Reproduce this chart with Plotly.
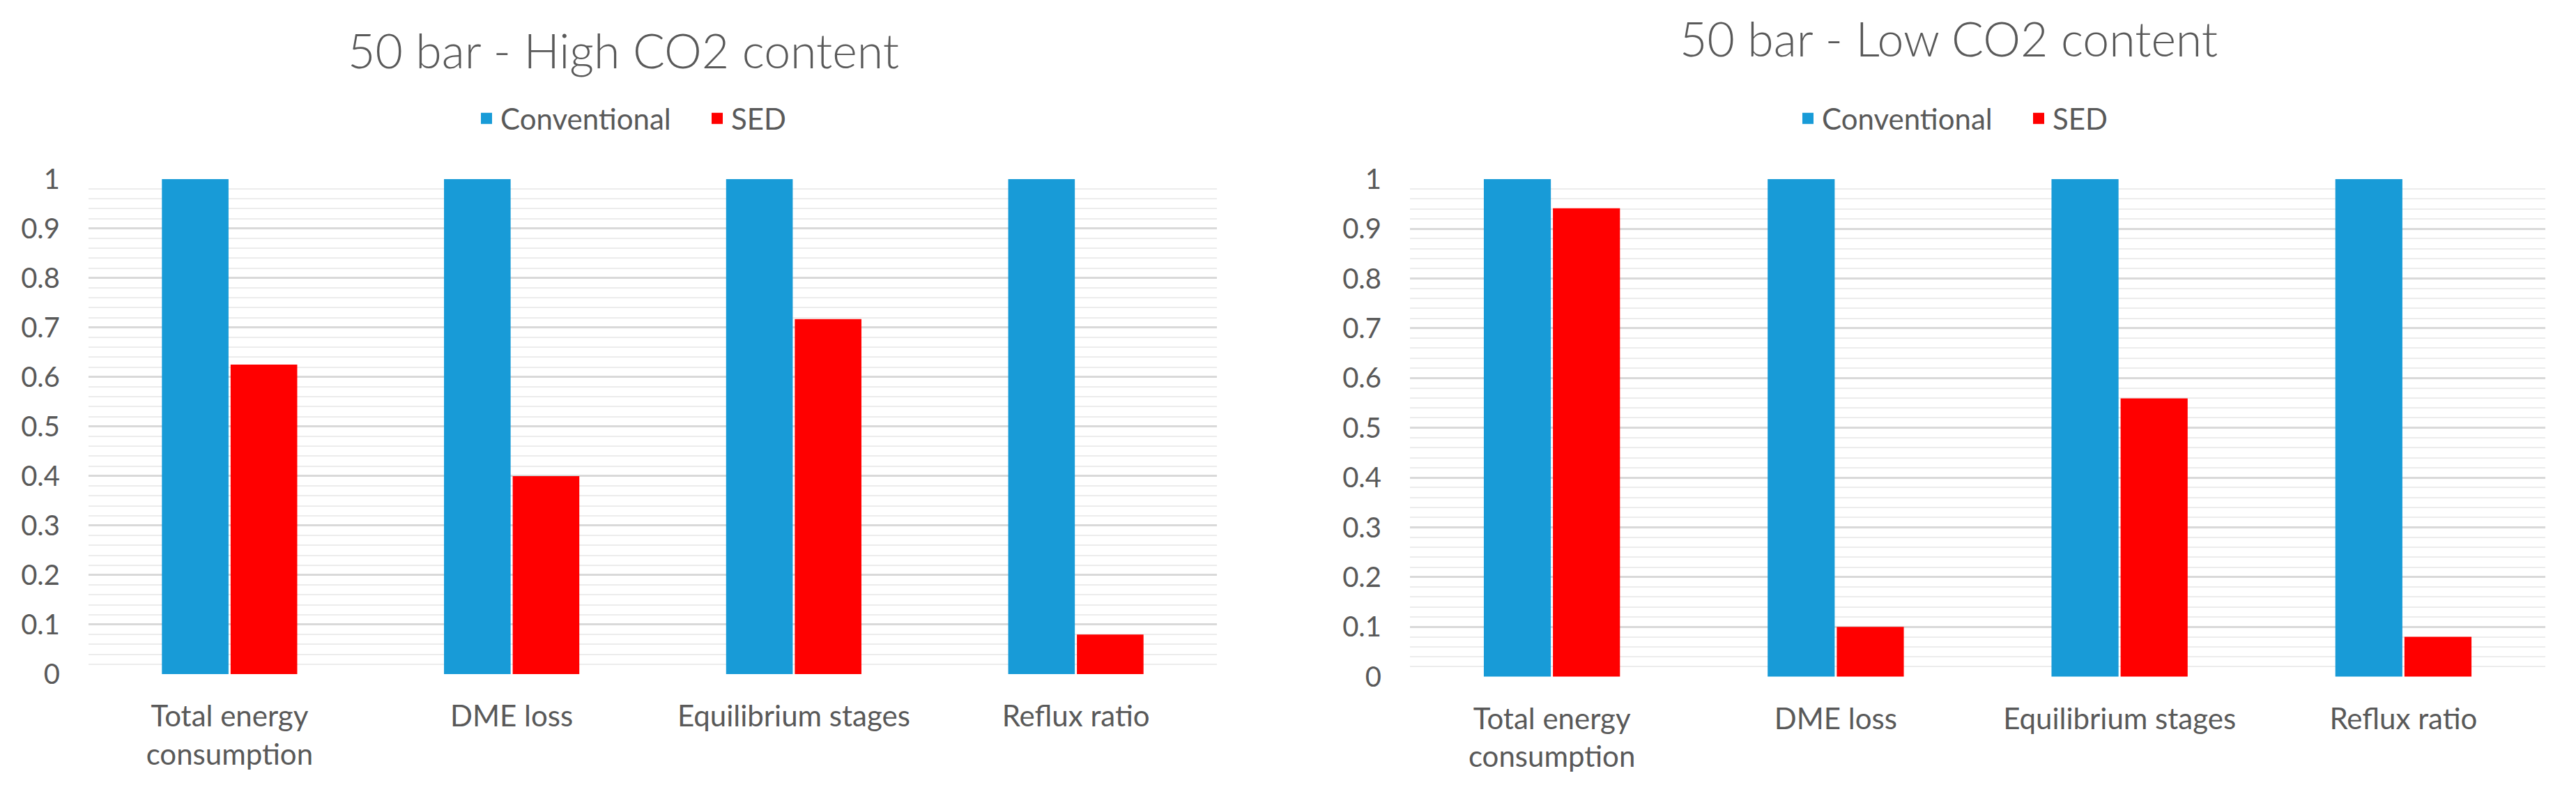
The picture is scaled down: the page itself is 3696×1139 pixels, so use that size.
import plotly.graph_objects as go

categories = ["Total energy<br>consumption", "DME loss", "Equilibrium stages", "Reflux ratio"]
series_names = ["Conventional", "SED"]
high_conventional = [1, 1, 1, 1]
high_sed = [0.625, 0.40, 0.717, 0.08]
low_conventional = [1, 1, 1, 1]
low_sed = [0.941, 0.10, 0.559, 0.08]
titles = ["50 bar - High CO2 content", "50 bar - Low CO2 content"]
y_ticks = [0, 0.1, 0.2, 0.3, 0.4, 0.5, 0.6, 0.7, 0.8, 0.9, 1]

# page has an 8px body margin: shrink the figure and shift coordinates to compensate
OFF = 8
W, H = 3696 - OFF, 1139 - OFF

def px(x):
    return (x - OFF) / W

def py(y):
    return 1 - (y - OFF) / H

BLUE = "#189BD7"
RED = "#FF0000"
TXT = "#595959"
FONT = "Lato"
colors = [BLUE, RED]

fig = go.Figure()
panels = [(high_conventional, high_sed, "x", "y", "legend"),
          (low_conventional, low_sed, "x2", "y2", "legend2")]
for conv, sed, xa, ya, lg in panels:
    for name, vals, col in zip(series_names, [conv, sed], colors):
        fig.add_trace(go.Bar(x=categories, y=vals, name=name, marker=dict(color=col, line=dict(width=0)),
                             xaxis=xa, yaxis=ya, showlegend=False, legendgroup=lg + name))
        # legend entry (square swatch)
        fig.add_trace(go.Scatter(x=[None], y=[None], mode="markers", name=name,
                                 marker=dict(symbol="square", size=20, color=col),
                                 xaxis=xa, yaxis=ya, legend=lg, legendgroup=lg + name))

def xax(domain, anchor):
    return dict(domain=domain, anchor=anchor, showgrid=False, showline=False, zeroline=False,
                automargin=False, ticks="", tickfont=dict(family=FONT, size=42, color=TXT),
                ticklabelstandoff=32)

def yax(domain, anchor):
    return dict(domain=domain, anchor=anchor, range=[0, 1.0], tickvals=y_ticks, automargin=False,
                showgrid=True, gridcolor="#d9d9d9", gridwidth=3, zeroline=False, showline=False,
                ticks="", tickfont=dict(family=FONT, size=40, color=TXT), ticklabelstandoff=40,
                minor=dict(dtick=0.02, showgrid=True, gridcolor="#ececec", gridwidth=2))

leg_common = dict(orientation="h", xanchor="left", yanchor="middle", itemsizing="trace",
                  entrywidth=286, font=dict(family=FONT, size=42, color=TXT),
                  bgcolor="rgba(0,0,0,0)")

fig.update_layout(
    width=W, height=H,
    margin=dict(l=0, r=0, t=0, b=0),
    paper_bgcolor="white", plot_bgcolor="white",
    barmode="group", bargap=0.513, bargroupgap=0.03,
    xaxis=xax([px(127), px(1746)], "y"),
    yaxis=yax([py(967), py(256.7)], "x"),
    xaxis2=xax([px(2023), px(3652)], "y2"),
    yaxis2=yax([py(970.7), py(256.7)], "x2"),
    legend=dict(x=px(678), y=py(170), **leg_common),
    legend2=dict(x=px(2574), y=py(170), **leg_common),
    annotations=[
        dict(text=titles[0], x=px(894), y=py(71), xref="paper", yref="paper",
             xanchor="center", yanchor="middle", showarrow=False,
             font=dict(family=FONT, size=68, color=TXT, weight=300)),
        dict(text=titles[1], x=px(2796), y=py(55), xref="paper", yref="paper",
             xanchor="center", yanchor="middle", showarrow=False,
             font=dict(family=FONT, size=68, color=TXT, weight=300)),
    ],
)

fig.write_html("out.html")
